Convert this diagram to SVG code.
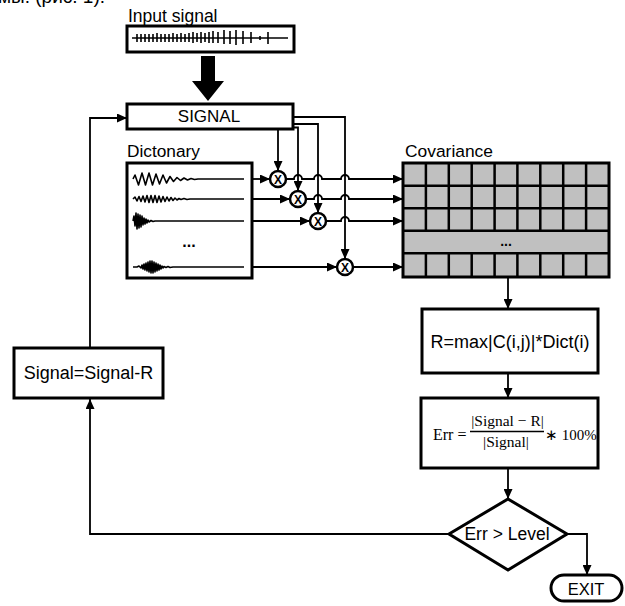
<svg xmlns="http://www.w3.org/2000/svg" width="625" height="606" viewBox="0 0 625 606">
<defs>
<marker id="ah" markerUnits="userSpaceOnUse" markerWidth="10" markerHeight="9" refX="10" refY="4.5" orient="auto">
<path d="M0,0 L10,4.5 L0,9 z" fill="#000"/>
</marker>
<style>
.t{font-family:"Liberation Sans",Arial,sans-serif;fill:#000}
.box{fill:#fff;stroke:#000;stroke-width:3}
.c{fill:none;stroke:#000;stroke-width:1.8}
.ca{fill:none;stroke:#000;stroke-width:1.8;marker-end:url(#ah)}
.w{fill:none;stroke:#000;stroke-width:1.6;stroke-linejoin:round}
.m{fill:#fff;stroke:#000;stroke-width:2.5}
.mx{font-family:"Liberation Sans",Arial,sans-serif;font-weight:bold;font-size:12px;text-anchor:middle}
.s{font-family:"Liberation Serif","Times New Roman",serif;fill:#000}
</style>
</defs>
<rect width="625" height="606" fill="#fff"/>
<text class="t" x="-2" y="3" font-size="19">мы. (рис. 1).</text>

<g id="input">
<text class="t" x="128" y="22" font-size="17.5">Input signal</text>
<rect class="box" x="127" y="26" width="167" height="26"/>
<path class="w" d="M132,38 H288"/>
<path class="w" d="M137,34v8M141,34v8M145,34v8M149,34v8M153,34v8M157,33v9M161,34v8M165,34v8M169,34v8M173,33v9M177,34v8M181,33v9M185,34v8M189,33v9M193,32v11M197,33v9M201,32v11M205,33v9M209,32v11M213,31v12M218,32v11M224,30v14M230,31v13M236,30v15M243,31v13M251,32v11M260,36v4M268,32v12"/>
</g>

<path id="bigarrow" d="M201,56 H215 V81 H224 L208,101 L192,81 H201 z" fill="#000"/>

<g id="signal">
<rect class="box" x="127" y="104" width="166" height="25"/>
<text class="t" x="209" y="122" font-size="17" text-anchor="middle">SIGNAL</text>
</g>

<g id="dictionary">
<text class="t" x="127" y="157" font-size="17.3">Dictonary</text>
<rect class="box" x="127" y="163" width="125" height="115"/>
<polyline class="w" points="133,179 135,175 138.5,185 142,173 145.5,185 149,173 152.5,185 156,174 159.5,184 163,175 166.5,183 170,176.5 173.5,181.5 177,177.5 180.5,180.5 184,178 187.5,180 191,178.5 194.5,179.5 198,179 244,179"/>
<polyline class="w" points="133,199 135,197 137,201 139,196.5 141,201.5 143,196 145,202 147,195.5 149,202.5 151,195.5 153,202.5 155,195.5 157,202.5 159,196 161,202 163,196.5 165,201.5 167,197 169,201 171,197.5 173,200.5 175,198 177,200 179,198.5 181,199.5 184,198.5 187,199.5 190,199 244,199"/>
<polyline class="w" points="133,221 134,216 135,226 136,213 137,229 138,214 139,228 140,215 141,227 142,216 143,225 144,218 145,224 146,219 147,223 148,220 149,222 151,220.5 153,221.5 155,221 244,221"/>
<polyline class="w" points="133,267 137,267 139,266 141,268 142,265 143,269 144,264 145,270 146,263 147,271 148,262 149,272 150,261 151,273 152,261 153,273 154,262 155,272 156,263 157,271 158,264 159,270 160,265 161,269 162,266 163,268 164,266.5 166,267.5 168,266.5 170,267.5 173,267 244,267"/>
<text class="t" x="189" y="247" font-size="16" font-weight="bold" text-anchor="middle">...</text>
</g>

<g id="covariance">
<text class="t" x="405" y="157" font-size="17.4">Covariance</text>
<rect x="403" y="163" width="206" height="114" fill="#c0c0c0" stroke="#000" stroke-width="3"/>
<path d="M403,185.7H609M403,208.3H609M403,230.7H609M403,253.3H609" stroke="#000" stroke-width="2.5"/>
<path d="M425.9,163V230.7M448.8,163V230.7M471.7,163V230.7M494.6,163V230.7M517.4,163V230.7M540.3,163V230.7M563.2,163V230.7M586.1,163V230.7M425.9,253.3V277M448.8,253.3V277M471.7,253.3V277M494.6,253.3V277M517.4,253.3V277M540.3,253.3V277M563.2,253.3V277M586.1,253.3V277" stroke="#000" stroke-width="2.5"/>
<text class="t" x="506" y="246" font-size="14" font-weight="bold" text-anchor="middle">...</text>
</g>

<g id="connectors">
<path class="ca" d="M278,129 V171"/>
<path class="ca" d="M293,127.5 H298 V191"/>
<path class="ca" d="M293,124 H318 V213"/>
<path class="ca" d="M293,117 H345 V259"/>
<path class="ca" d="M252,179 H270"/>
<path class="ca" d="M252,199 H290"/>
<path class="ca" d="M252,221 H310"/>
<path class="ca" d="M252,267 H337"/>
<path class="ca" d="M286,179 H294 a4,4 0 0 1 8,0 H314 a4,4 0 0 1 8,0 H341 a4,4 0 0 1 8,0 H403"/>
<path class="ca" d="M306,199 H314 a4,4 0 0 1 8,0 H341 a4,4 0 0 1 8,0 H403"/>
<path class="ca" d="M326,221 H341 a4,4 0 0 1 8,0 H403"/>
<path class="ca" d="M353,267 H403"/>
<path class="ca" d="M508,277 V309"/>
<path class="ca" d="M508,373 V398"/>
<path class="ca" d="M508,468 V499"/>
<path class="ca" d="M567,534 H587 V575"/>
<path class="ca" d="M449,534 H90 V399"/>
<path class="ca" d="M90,348 V118 H127"/>
</g>

<g id="mult1"><circle class="m" cx="278" cy="179" r="8"/><text class="mx" x="278" y="183.5">X</text></g>
<g id="mult2"><circle class="m" cx="298" cy="199" r="8"/><text class="mx" x="298" y="203.5">X</text></g>
<g id="mult3"><circle class="m" cx="318" cy="221" r="8"/><text class="mx" x="318" y="225.5">X</text></g>
<g id="mult4"><circle class="m" cx="345" cy="267" r="8"/><text class="mx" x="345" y="271.5">X</text></g>

<g id="rbox">
<rect class="box" x="422" y="309" width="176" height="64"/>
<text class="t" x="510" y="348" font-size="18" text-anchor="middle">R=max|C(i,j)|*Dict(i)</text>
</g>

<g id="errbox">
<rect class="box" x="421" y="398" width="177" height="70"/>
<text class="s" x="433" y="440" font-size="16">Err =</text>
<text class="s" x="507.5" y="426" font-size="15.5" text-anchor="middle">|Signal − R|</text>
<line x1="470" y1="431.5" x2="544" y2="431.5" stroke="#000" stroke-width="1.3"/>
<text class="s" x="506" y="447" font-size="15.5" text-anchor="middle">|Signal|</text>
<text class="s" x="545" y="440" font-size="15">∗ 100%</text>
</g>

<g id="signalr">
<rect class="box" x="14" y="348" width="149" height="50"/>
<text class="t" x="88.5" y="379" font-size="18" text-anchor="middle">Signal=Signal-R</text>
</g>

<g id="decision">
<polygon points="508,499 567,534 508,570 449,534" fill="#fff" stroke="#000" stroke-width="3"/>
<text class="t" x="507" y="540" font-size="17.5" text-anchor="middle">Err &gt; Level</text>
</g>

<g id="exit">
<rect class="box" x="551" y="575" width="71" height="26" rx="13"/>
<text class="t" x="586" y="595" font-size="16.5" text-anchor="middle">EXIT</text>
</g>
</svg>
